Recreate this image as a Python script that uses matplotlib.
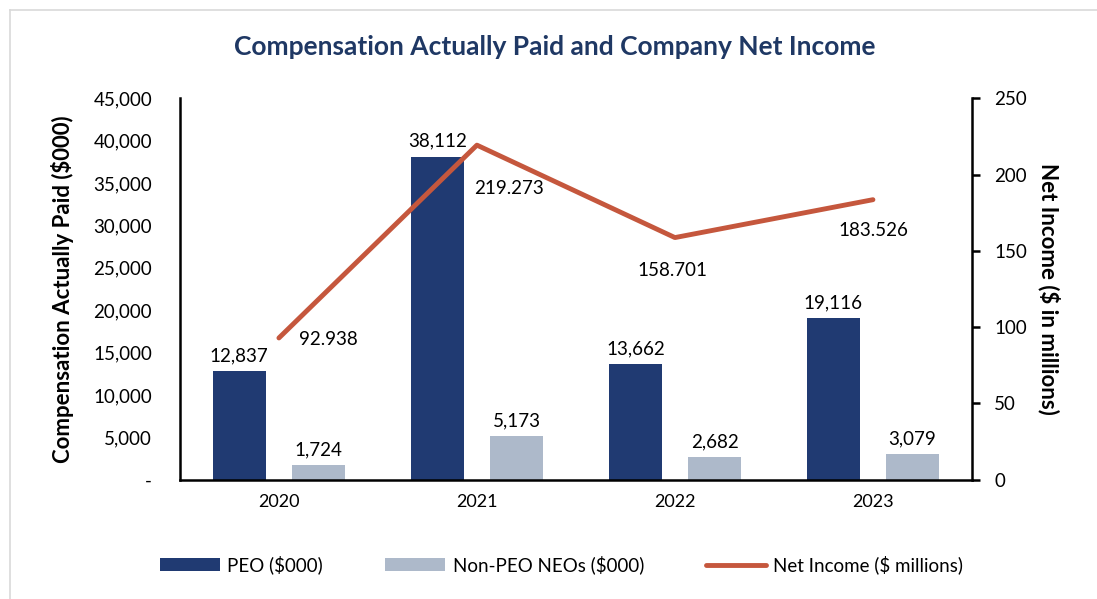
import matplotlib
matplotlib.use("Agg")
import matplotlib.pyplot as plt
from matplotlib.lines import Line2D
from matplotlib.ticker import FuncFormatter
import numpy as np

years = ["2020", "2021", "2022", "2023"]
peo = [12837, 38112, 13662, 19116]
neo = [1724, 5173, 2682, 3079]
net_income = [92.938, 219.273, 158.701, 183.526]
# label offsets for net income (pixels)
ni_offsets = [(49, -2), (32, -43), (-2, -33), (0, -31)]

plt.rcParams["font.family"] = ["Lato", "DejaVu Sans"]

navy = "#203A72"
grey = "#ADB9CA"
red = "#C5573D"

fig = plt.figure(figsize=(10.97, 5.99), dpi=100)
ax = fig.add_axes([0.164, 0.199, 0.722, 0.637])
ax2 = ax.twinx()

x = np.arange(len(years))
w = 0.265
b1 = ax.bar(x - 0.2, peo, w, color=navy, label="PEO ($000)", zorder=2)
b2 = ax.bar(x + 0.2, neo, w, color=grey, label="Non-PEO NEOs ($000)", zorder=2)
for xi, v in zip(x, peo):
    ax.text(xi - 0.2, v + 800, f"{v:,}", ha="center", va="bottom", fontsize=13.5)
for xi, v in zip(x, neo):
    ax.text(xi + 0.2, v + 800, f"{v:,}", ha="center", va="bottom", fontsize=13.5)

ln, = ax2.plot(x, net_income, color=red, lw=3.5, label="Net Income ($ millions)",
               solid_capstyle="round", zorder=3)
for xi, v, (dx, dy) in zip(x, net_income, ni_offsets):
    ax2.annotate(f"{v:.3f}", (xi, v), xytext=(dx * 0.72, dy * 0.72),
                 textcoords="offset points", ha="center", va="center", fontsize=13.5)

ax.set_xlim(-0.5, 3.5)
ax.set_ylim(0, 45000)
ax2.set_ylim(0, 250)
ax.set_yticks(np.arange(0, 45001, 5000))
ax.yaxis.set_major_formatter(FuncFormatter(lambda v, p: "-" if v == 0 else f"{int(v):,}"))
ax2.set_yticks(np.arange(0, 251, 50))
ax.set_xticks(x)
ax.set_xticklabels(years)

for a in (ax, ax2):
    a.spines["top"].set_visible(False)
    for s in a.spines.values():
        s.set_linewidth(1.8)
        s.set_color("black")
ax.spines["right"].set_visible(False)
ax2.spines["left"].set_visible(False)
ax2.spines["bottom"].set_visible(False)

ax.tick_params(axis="y", length=0, labelsize=13.5, pad=20)
ax.tick_params(axis="x", length=0, labelsize=13, pad=10)
ax2.tick_params(axis="y", length=6, width=1.8, direction="out", labelsize=13.5, pad=10)

ax.set_ylabel("Compensation Actually Paid ($000)", fontsize=16, fontweight="bold", labelpad=14)
ax2.set_ylabel("Net Income ($ in millions)", fontsize=16, fontweight="bold",
               rotation=270, labelpad=24)

fig.text(0.506, 0.921, "Compensation Actually Paid and Company Net Income",
         ha="center", va="center", fontsize=19, fontweight="bold", color="#1F3864")

fig.legend(handles=[b1, b2, ln], loc="center", bbox_to_anchor=(0.512, 0.057), ncol=3,
           frameon=False, fontsize=13.5, handlelength=3.2, columnspacing=3.3,
           handletextpad=0.4)

fig.add_artist(Line2D([0.009, 1.0], [0.983, 0.983], color="#D9D9D9", lw=1.2))
fig.add_artist(Line2D([0.009, 0.009], [0.0, 0.983], color="#D9D9D9", lw=1.2))

fig.savefig("out.png", dpi=100)
